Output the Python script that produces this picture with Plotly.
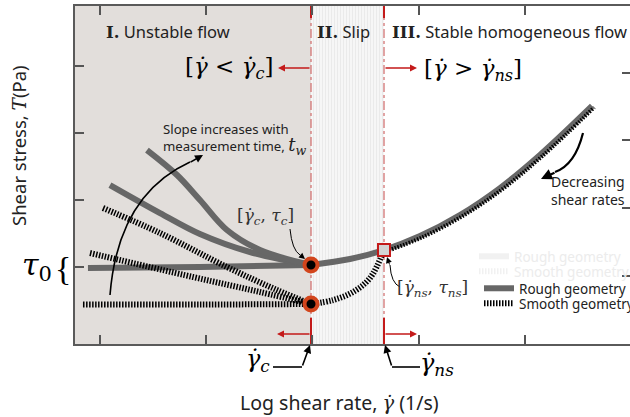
import plotly.graph_objects as go

# ---------------- data (arbitrary units: log shear rate, shear stress) ----------------
gamma_c = 1.986
gamma_ns = 2.673
tau_c_rough = 1.03
tau_c_smooth = 0.448
tau_ns = 1.254

rough_flat_x = [-0.113, 0.941, 1.986]
rough_flat_y = [0.985, 1.0, 1.03]
rough_mid_x = [0.094, 0.565, 0.941, 1.412, 1.986]
rough_mid_y = [2.224, 1.806, 1.493, 1.224, 1.03]
rough_steep_x = [0.442, 0.725, 0.941, 1.195, 1.506, 1.986]
rough_steep_y = [2.746, 2.373, 2.0, 1.552, 1.254, 1.03]
rough_flow_x = [1.986, 2.353, 2.673, 3.012, 3.388, 3.765, 4.141, 4.631]
rough_flow_y = [1.03, 1.119, 1.254, 1.463, 1.776, 2.179, 2.672, 3.403]

smooth_flat_x = [-0.16, 0.94, 1.986]
smooth_flat_y = [0.44, 0.44, 0.448]
smooth_mid_x = [-0.094, 0.875, 1.506, 1.986]
smooth_mid_y = [1.209, 0.851, 0.627, 0.448]
smooth_steep_x = [0.028, 0.565, 1.195, 1.666, 1.986]
smooth_steep_y = [1.881, 1.507, 1.0, 0.657, 0.448]
smooth_slip_x = [1.986, 2.193, 2.381, 2.541, 2.673]
smooth_slip_y = [0.448, 0.507, 0.627, 0.836, 1.254]
smooth_flow_x = [2.693, 3.032, 3.408, 3.785, 4.161, 4.651]
smooth_flow_y = [1.234, 1.443, 1.756, 2.159, 2.652, 3.383]

x_range = [-0.235, 4.988]
y_range = [-0.149, 4.896]
x_ticks = [0, 1, 2, 3, 4]
y_ticks_left = [1, 2, 3, 4]
y_ticks_right = [0.866, 1.881, 2.896, 3.896]

# ---------------- styles ----------------
ROUGH = "#676767"
SMOOTH_DASH = "1.5px,1.5px"
RED = "#c41a1a"
RED_LIGHT = "#d06a6a"
SANS = "Noto Sans"
SERIF = "DejaVu Serif"

W, H = 630, 417
ML, MR, MT, MB = 75, 0, 6, 73
PW, PH = W - ML - MR, H - MT - MB


def P(px, py):
    """pixel -> paper coordinates"""
    return (px - ML) / PW, (H - MB - py) / PH


fig = go.Figure()

# Region II (slip) hatched fill
fig.add_trace(go.Scatter(
    x=[gamma_c, gamma_ns, gamma_ns, gamma_c, gamma_c],
    y=[y_range[0], y_range[0], y_range[1], y_range[1], y_range[0]],
    fill="toself", mode="lines", line=dict(width=0),
    fillcolor="white",
    fillpattern=dict(shape="|", fgcolor="#d8d8d8", bgcolor="#f6f6f6", size=3, solidity=0.25),
    showlegend=False, hoverinfo="skip"))

# red dash-dot boundaries
for gx in (gamma_c, gamma_ns):
    fig.add_trace(go.Scatter(x=[gx, gx], y=y_range, mode="lines",
                             line=dict(color=RED_LIGHT, width=1.2, dash="dashdot"),
                             showlegend=False, hoverinfo="skip"))
    fig.add_trace(go.Scatter(x=[gx, gx], y=[y_range[1], 4.716], mode="lines",
                             line=dict(color=RED, width=2), showlegend=False, hoverinfo="skip"))
    fig.add_trace(go.Scatter(x=[gx, gx], y=[0.239, y_range[0]], mode="lines",
                             line=dict(color=RED, width=2), showlegend=False, hoverinfo="skip"))

# rough curves
for i, (xs, ys) in enumerate([(rough_flat_x, rough_flat_y), (rough_mid_x, rough_mid_y),
                              (rough_steep_x, rough_steep_y), (rough_flow_x, rough_flow_y)]):
    fig.add_trace(go.Scatter(x=xs, y=ys, mode="lines", line=dict(color=ROUGH, width=6, shape="spline"),
                             name="Rough geometry", showlegend=(i == 0), legend="legend",
                             hoverinfo="skip"))

# smooth curves
for i, (xs, ys) in enumerate([(smooth_flat_x, smooth_flat_y), (smooth_mid_x, smooth_mid_y),
                              (smooth_steep_x, smooth_steep_y), (smooth_slip_x, smooth_slip_y),
                              (smooth_flow_x, smooth_flow_y)]):
    fig.add_trace(go.Scatter(x=xs, y=ys, mode="lines",
                             line=dict(color="black", width=6 if i < 4 else 4, shape="spline",
                                       dash=SMOOTH_DASH),
                             name="Smooth geometry", showlegend=(i == 0), legend="legend3",
                             hoverinfo="skip"))

# ghost legend entries
fig.add_trace(go.Scatter(x=[None], y=[None], mode="lines", line=dict(color="#f1f1f1", width=6),
                         name="Rough geometry", legend="legend2"))
fig.add_trace(go.Scatter(x=[None], y=[None], mode="lines",
                         line=dict(color="#f1f1f1", width=6, dash=SMOOTH_DASH),
                         name="Smooth geometry", legend="legend4"))

# critical points
fig.add_trace(go.Scatter(x=[gamma_c, gamma_c], y=[tau_c_rough, tau_c_smooth], mode="markers",
                         marker=dict(size=13, color="black", line=dict(color="#d2451c", width=4)),
                         showlegend=False, hoverinfo="skip"))
fig.add_trace(go.Scatter(x=[gamma_ns], y=[tau_ns], mode="markers",
                         marker=dict(size=12, symbol="square", color="#d4d4d4",
                                     line=dict(color=RED, width=2)),
                         showlegend=False, hoverinfo="skip"))

# right-side ticks
fig.add_trace(go.Scatter(x=[None], y=[None], yaxis="y2", showlegend=False, hoverinfo="skip"))

shapes = [
    dict(type="rect", xref="x", yref="paper", x0=x_range[0], x1=gamma_c, y0=0, y1=1,
         fillcolor="#e2dedb", line=dict(width=0), layer="below"),
]


def qpath(p0, c, p1):
    a = P(*p0); b = P(*c); d = P(*p1)
    return f"M{a[0]},{a[1]} Q{b[0]},{b[1]} {d[0]},{d[1]}"


shapes += [
    dict(type="path", xref="paper", yref="paper", path=qpath((110, 295), (118, 195), (190, 162)),
         line=dict(color="black", width=1.6)),
    dict(type="path", xref="paper", yref="paper", path=qpath((583, 133), (575, 165), (555, 172)),
         line=dict(color="black", width=2.2)),
    dict(type="path", xref="paper", yref="paper", path=qpath((290, 229), (292, 250), (300, 255)),
         line=dict(color="black", width=1)),
    dict(type="path", xref="paper", yref="paper", path=qpath((400, 287), (391, 283), (390, 265)),
         line=dict(color="black", width=1)),
]
for (a, b) in [((273, 367), (302, 367)), ((420, 367), (392, 367))]:
    pa, pb = P(*a), P(*b)
    shapes.append(dict(type="line", xref="paper", yref="paper", x0=pa[0], y0=pa[1], x1=pb[0], y1=pb[1],
                       line=dict(color="black", width=1.6)))

annotations = []


def arrow(head, tail, color="black", width=1.5, size=1.0, head_style=2):
    hx, hy = P(*head)
    annotations.append(dict(xref="paper", yref="paper", x=hx, y=hy, ax=tail[0] - head[0],
                            ay=tail[1] - head[1], text="", showarrow=True, arrowhead=head_style,
                            arrowsize=size, arrowwidth=width, arrowcolor=color))


def text(px, py, s, size=14, family=SANS, anchor="center", color="#222", angle=0):
    x, y = P(px, py)
    annotations.append(dict(xref="paper", yref="paper", x=x, y=y, text=s, showarrow=False,
                            xanchor=anchor, yanchor="middle", textangle=angle, align="left",
                            font=dict(size=size, family=family, color=color)))


arrow((203, 155), (189, 163), width=1.6)
arrow((305, 259), (299, 254), width=1, size=1.2)
arrow((387, 257), (390, 266), width=1, size=1.2)
arrow((541, 179), (556, 172), width=2.2, size=1.0)
arrow((278, 68), (311, 68), color=RED, width=1.4)
arrow((417, 68), (384, 68), color=RED, width=1.4)
arrow((277, 334), (311, 334), color=RED, width=1.4)
arrow((417, 334), (384, 334), color=RED, width=1.4)
arrow((310, 345), (302, 367), width=1.6)
arrow((385, 345), (392, 367), width=1.6)

bold_serif = '<span style="font-family:DejaVu Serif"><b>{}</b></span>'
text(104, 31, bold_serif.format("I.") + " Unstable flow", size=16.5, anchor="left")
text(315, 31, bold_serif.format("II.") + " Slip", size=16.5, anchor="left")
text(390, 31, bold_serif.format("III.") + " Stable homogeneous flow", size=16.5, anchor="left")

text(229, 68, "[<i>γ̇</i> &lt; <i>γ̇<sub>c</sub></i>]", size=23, family=SERIF, color="black")
text(473, 70, "[<i>γ̇</i> &gt; <i>γ̇<sub>ns</sub></i>]", size=23, family=SERIF, color="black")

text(161, 139, "Slope increases with<br>measurement time, "
     '<span style="font-family:DejaVu Serif;font-size:18px"><i>t<sub>w</sub></i></span>',
     size=13.2, anchor="left")
text(265, 216, "[<i>γ̇<sub>c</sub></i>, <i>τ<sub>c</sub></i>]", size=17, family=SERIF, color="#333")
text(432, 288, "[<i>γ̇<sub>ns</sub></i>, <i>τ<sub>ns</sub></i>]", size=17, family=SERIF, color="#333")
text(549, 190, "Decreasing<br>shear rates", size=14, anchor="left")

text(37, 266, "<i>τ</i><sub>0</sub>", size=30, family=SERIF, color="black")
text(63, 268, "{", size=34, family="Liberation Serif", color="black")

text(258, 360, "<i>γ̇<sub>c</sub></i>", size=24, family=SERIF, color="black")
text(437, 364, "<i>γ̇<sub>ns</sub></i>", size=24, family=SERIF, color="black")

text(339, 402, 'Log shear rate, <span style="font-family:DejaVu Serif"><i>γ̇</i></span> (1/s)',
     size=19.5, color="#222")
text(18, 146, 'Shear stress, <span style="font-family:DejaVu Serif"><i>T</i></span>(Pa)',
     size=18.5, color="#222", angle=-90)


def legend_box(px, py, color):
    x, y = P(px, py)
    return dict(x=x, y=y, xanchor="left", yanchor="top", bgcolor="rgba(0,0,0,0)",
                font=dict(size=13.5, family=SANS, color=color), itemwidth=30, borderwidth=0)


fig.update_layout(
    width=W, height=H,
    margin=dict(l=ML, r=MR, t=MT, b=MB, pad=0, autoexpand=False),
    paper_bgcolor="white", plot_bgcolor="white",
    shapes=shapes, annotations=annotations,
    xaxis=dict(range=x_range, showgrid=False, zeroline=False, tickvals=x_ticks, ticks="inside",
               ticklen=9, tickwidth=1.6, tickcolor="#555", showticklabels=False, showline=True,
               linewidth=2, linecolor="#5a5a5a", mirror="ticks"),
    yaxis=dict(range=y_range, showgrid=False, zeroline=False, tickvals=y_ticks_left, ticks="inside",
               ticklen=9, tickwidth=1.6, tickcolor="#555", showticklabels=False, showline=True,
               linewidth=2, linecolor="#5a5a5a"),
    yaxis2=dict(range=y_range, overlaying="y", side="right", showgrid=False, zeroline=False,
                tickvals=y_ticks_right, ticks="inside", ticklen=8, tickwidth=1.6, tickcolor="#555",
                showticklabels=False, showline=False),
    legend=legend_box(479, 273, "#222"),
    legend3=legend_box(479, 288, "#222"),
    legend2=legend_box(474, 241, "#ececec"),
    legend4=legend_box(474, 256, "#ececec"),
)

fig.write_html("out.html")
